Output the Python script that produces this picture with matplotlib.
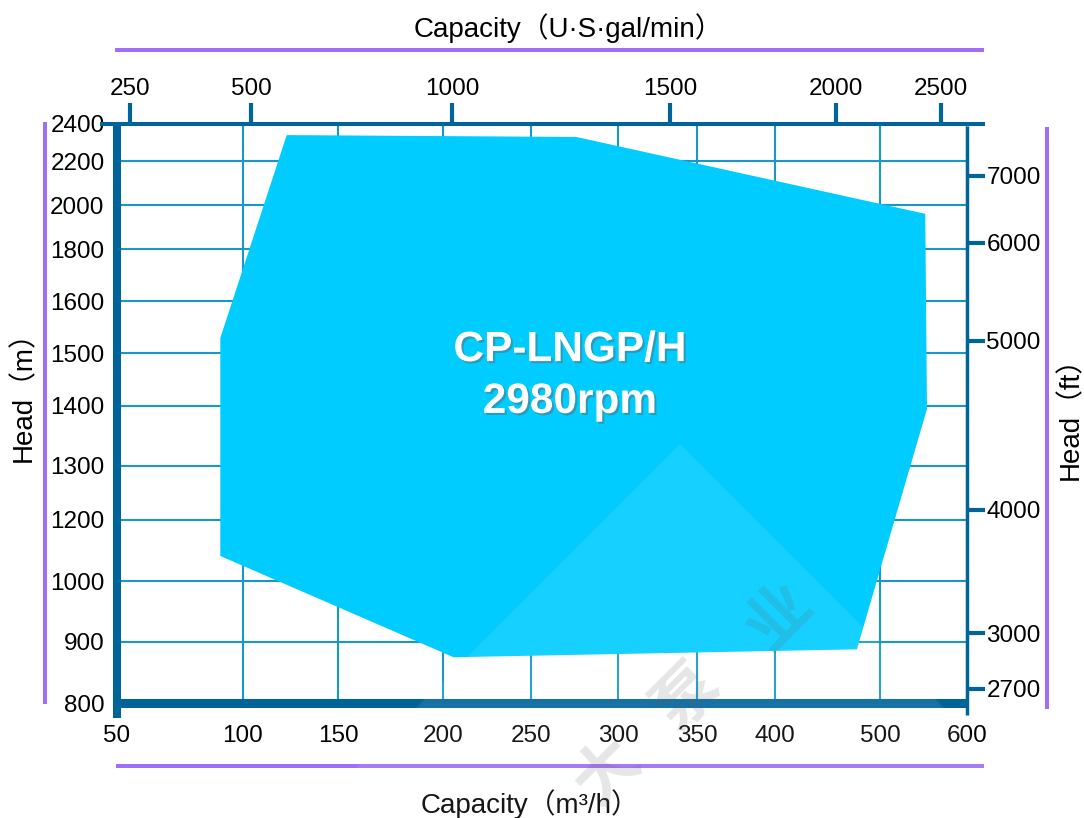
import numpy as np
import matplotlib
matplotlib.use("Agg")
import matplotlib.pyplot as plt
from matplotlib import patheffects as pe
from matplotlib.patches import Polygon
from matplotlib.lines import Line2D

plt.rcParams['font.family'] = ['Liberation Sans', 'Noto Sans CJK SC', 'DejaVu Sans']

# performance envelope, capacity (m3/h) and head (m)
flow_m3h = [123, 276, 552, 554, 478, 206, 91, 91]
head_m = [2340, 2330, 1960, 1395, 888, 875, 1082, 1529]

x_ticks = [50, 100, 150, 200, 250, 300, 350, 400, 500, 600]
y_ticks = [800, 900, 1000, 1200, 1300, 1400, 1500, 1600, 1800, 2000, 2200, 2400]
gpm_ticks = [250, 500, 1000, 1500, 2000, 2500]
ft_ticks = [2700, 3000, 4000, 5000, 6000, 7000]

model = 'CP-LNGP/H'
speed = '2980rpm'

# the sheet's axes are hand spaced: pixel position of every tick
x_pos = [117, 243, 338, 443, 531, 618, 697, 775, 880, 967]
y_pos = [703, 642, 581, 520, 466, 406, 353, 301, 249, 205, 161, 124]
gpm_lim = [225, 2630]
gpm_pos = [117, 130, 251, 452, 670, 836, 941, 967]
M_TO_FT = 3.2808

W, H = 1084, 818
spine_c = '#00649b'
grid_c = '#1798c9'
fill_c = '#00ccff'
purple = '#a06ef6'
TICK_FS = 17.5
LABEL_FS = 20


def px(x, y):
    return x / W, 1 - y / H


def fx(v):
    return np.interp(v, x_ticks, x_pos)


def fx_inv(p):
    return np.interp(p, x_pos, x_ticks)


y_neg = [-p for p in y_pos]


def fy(v):
    return np.interp(v, y_ticks, y_neg)


def fy_inv(p):
    return np.interp(p, y_neg, y_ticks)


gpm_vals = [gpm_lim[0]] + gpm_ticks + [gpm_lim[1]]


def fg(v):
    return np.interp(v, gpm_vals, gpm_pos)


def fg_inv(p):
    return np.interp(p, gpm_pos, gpm_vals)


def fft(v):
    return fy(np.asarray(v) / M_TO_FT)


def fft_inv(p):
    return fy_inv(p) * M_TO_FT


fig = plt.figure(figsize=(W / 100, H / 100), dpi=100)
l, b = px(117, 703)
r, t = px(967, 124)
ax = fig.add_axes([l, b, r - l, t - b])

ax.set_xscale('function', functions=(fx, fx_inv))
ax.set_yscale('function', functions=(fy, fy_inv))
ax.set_xlim(x_ticks[0], x_ticks[-1])
ax.set_ylim(y_ticks[0], y_ticks[-1])
ax.set_xticks(x_ticks)
ax.set_yticks(y_ticks)
ax.set_xticklabels([str(v) for v in x_ticks])
ax.set_yticklabels([str(v) for v in y_ticks])
ax.grid(True, color=grid_c, lw=1.5)
ax.set_axisbelow(True)
ax.tick_params(axis='both', length=0, labelsize=TICK_FS)
ax.tick_params(axis='y', pad=9)
ax.tick_params(axis='x', pad=16)
for s in ax.spines.values():
    s.set_visible(False)

ax.add_patch(Polygon(np.column_stack([flow_m3h, head_m]), closed=True,
                     facecolor=fill_c, edgecolor='none', zorder=2))

# frame, drawn a bit past the corners like the original sheet
frame = [((0, 0), (-0.026, 1.003), 5.8),
         ((0, 1), (0, 0), 6.5),
         ((-0.02, 1.021), (1, 1), 2.9),
         ((1, 1), (-0.021, 0.997), 2.5)]
for xs, ys, lw in frame:
    ax.plot(xs, ys, color=spine_c, lw=lw, transform=ax.transAxes,
            clip_on=False, solid_capstyle='butt', zorder=4)

ax_t = ax.twiny()
ax_t.set_xscale('function', functions=(fg, fg_inv))
ax_t.set_xlim(gpm_lim)
ax_t.set_xticks(gpm_ticks)
ax_t.set_xticklabels([str(v) for v in gpm_ticks])
ax_t.tick_params(axis='x', direction='out', length=15, width=3,
                 color=spine_c, pad=2, labelsize=TICK_FS)

ax_r = ax.twinx()
ax_r.set_yscale('function', functions=(fft, fft_inv))
ax_r.set_ylim(y_ticks[0] * M_TO_FT, y_ticks[-1] * M_TO_FT)
ax_r.set_yticks(ft_ticks)
ax_r.set_yticklabels([str(v) for v in ft_ticks])
ax_r.tick_params(axis='y', direction='out', length=13, width=3,
                 color=spine_c, pad=1, labelsize=TICK_FS)
for a in (ax_t, ax_r):
    for s in a.spines.values():
        s.set_visible(False)

# axis titles
fig.text(*px(568, 28), 'Capacity（U·S·gal/min）', ha='center', va='center', fontsize=LABEL_FS)
fig.text(*px(530, 804), 'Capacity（m³/h）', ha='center', va='center', fontsize=LABEL_FS)
fig.text(*px(24, 390), 'Head（m）', ha='center', va='center', rotation=90, fontsize=LABEL_FS)
fig.text(*px(1071, 412), 'Head（ft）', ha='center', va='center', rotation=90, fontsize=LABEL_FS)

# purple rules round the chart
for (x0, y0), (x1, y1) in [((115, 50), (984, 50)), ((116, 766), (984, 766)),
                           ((45, 122), (45, 704)), ((1047, 127), (1047, 709))]:
    a0, b0 = px(x0, y0)
    a1, b1 = px(x1, y1)
    fig.add_artist(Line2D([a0, a1], [b0, b1], color=purple, lw=2.9,
                          solid_capstyle='butt'))

fig.text(*px(570, 376), model + '\n' + speed, ha='center', va='center',
         fontsize=30.5, fontweight='bold', color='white', linespacing=1.38,
         path_effects=[pe.withSimplePatchShadow(offset=(1.5, -1.5),
                                                shadow_rgbFace='#606060', alpha=0.45)])

# faint watermark
diamond = [px(680, 444), px(280, 844), px(680, 1244), px(1080, 844)]
fig.add_artist(Polygon(diamond, closed=True, transform=fig.transFigure,
                       facecolor='white', edgecolor='none', alpha=0.09, zorder=5))
for ch, (cx, cy) in zip('大泵业', [(608, 772), (688, 698), (780, 618)]):
    fig.text(*px(cx, cy), ch, ha='center', va='center', rotation=45,
             fontsize=46, fontweight='bold', color='#606060', alpha=0.16, zorder=6)

fig.savefig('out.png', dpi=100)
